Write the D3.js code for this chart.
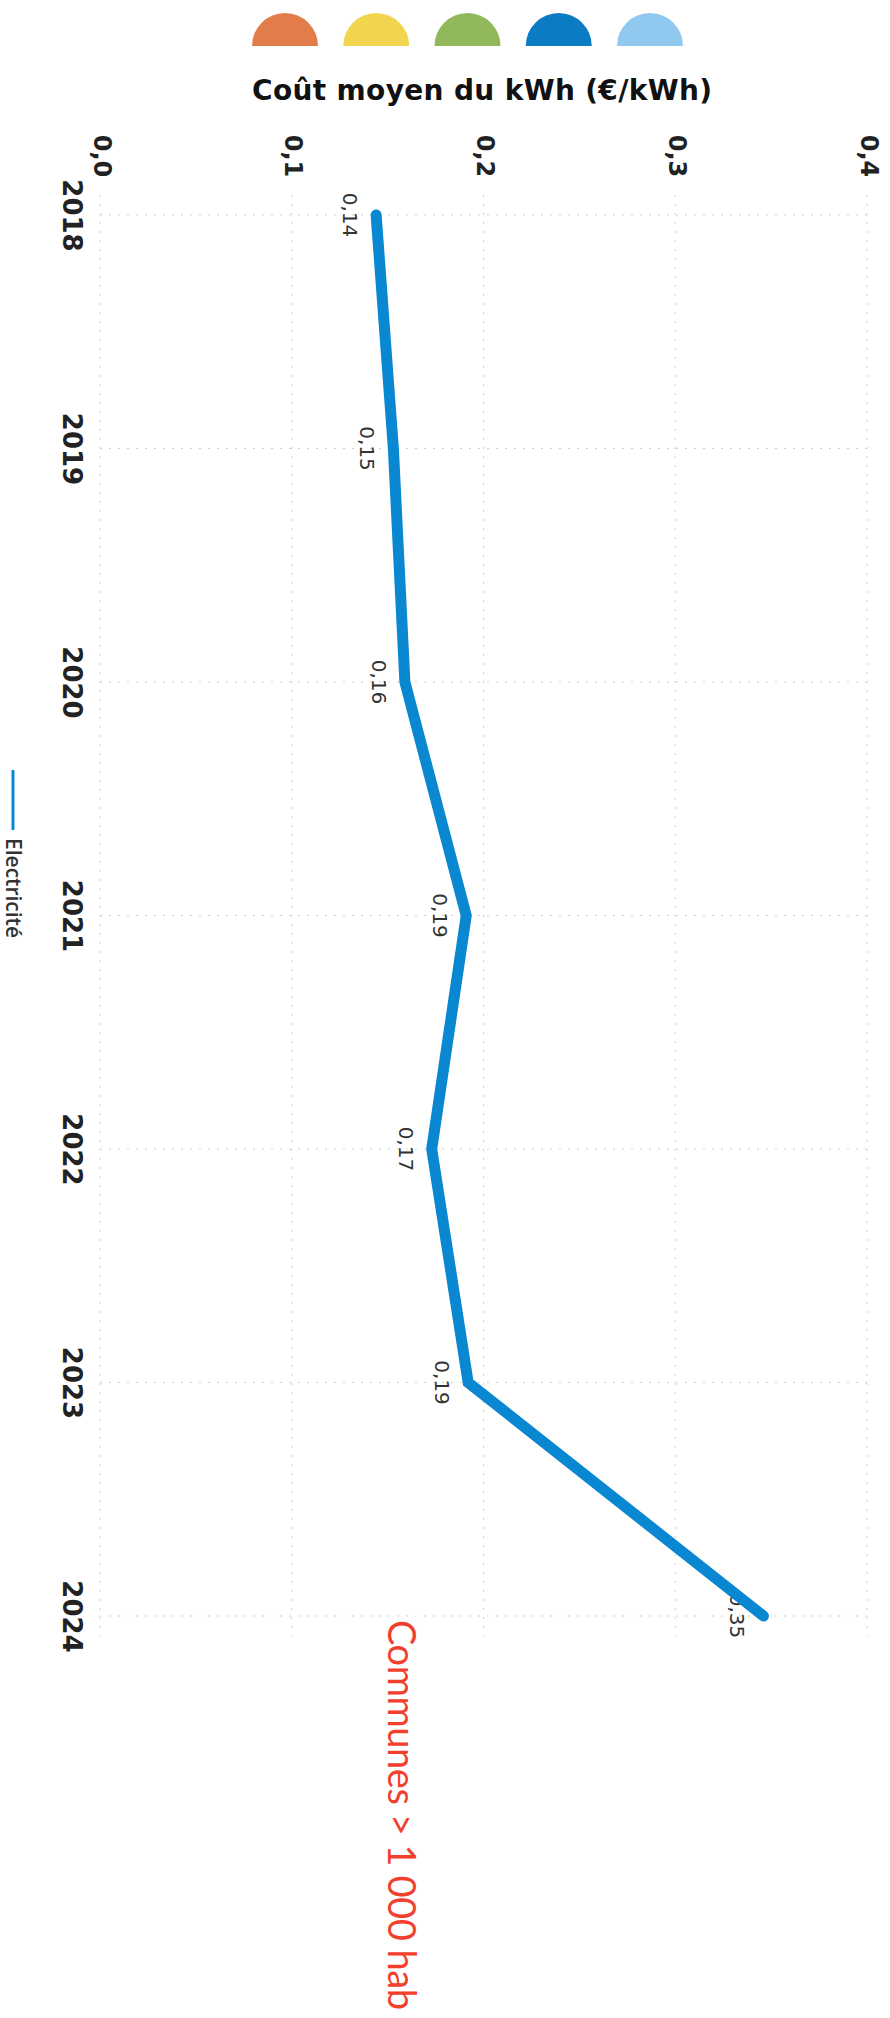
<!DOCTYPE html>
<html>
<head>
<meta charset="utf-8">
<script src="https://cdn.jsdelivr.net/npm/d3@7"></script>
<style>
  html, body { margin: 0; padding: 0; background: #fff; }
  svg { display: block; }
</style>
</head>
<body>
<div id="chart"></div>
<script>
const years = ["2018", "2019", "2020", "2021", "2022", "2023", "2024"];
const costs = [0.144, 0.153, 0.159, 0.191, 0.173, 0.192, 0.346];
const valueTicks = [0, 0.1, 0.2, 0.3, 0.4];
const tickLabels = ["0,0", "0,1", "0,2", "0,3", "0,4"];
const domeColors = ["#e27c4b", "#f2d54f", "#91b85b", "#0b7cc4", "#90c8f0"];
const seriesName = "Electricité";

const width = 890, height = 2018;
const lineColor = "#0a87d1";

const svg = d3.select("#chart").append("svg")
  .attr("width", width)
  .attr("height", height);

// value axis runs left -> right, years run top -> bottom (picture is turned 90deg)
const xscale = d3.scaleLinear().domain([0, 0.4]).range([100, 867]);
const yscale = d3.scalePoint().domain(years).range([215, 1616]);

const fr = d3.formatLocale({decimal: ",", thousands: " ", grouping: [3], currency: ["", " €"]});
const fmt = fr.format(".2f");

// coloured half discs at the top
const domeX = d3.scalePoint().domain(d3.range(domeColors.length)).range([285, 650]);
const arc = d3.arc().innerRadius(0).outerRadius(33)
  .startAngle(-Math.PI / 2).endAngle(Math.PI / 2);
svg.append("g").selectAll("path")
  .data(domeColors)
  .enter().append("path")
  .attr("transform", (d, i) => `translate(${domeX(i)}, 46)`)
  .attr("d", arc)
  .attr("fill", d => d);

// axis title
svg.append("text")
  .attr("x", 252)
  .attr("y", 100)
  .attr("textLength", 460)
  .style("font-family", "'DejaVu Sans', sans-serif")
  .style("font-weight", "bold")
  .style("font-size", "28px")
  .style("fill", "#111")
  .text("Coût moyen du kWh (€/kWh)");

// grid
const grid = svg.append("g").attr("class", "grid")
  .attr("stroke", "#cfcfcf")
  .attr("stroke-width", 1)
  .attr("stroke-dasharray", "2,7");

grid.selectAll("line.v")
  .data(valueTicks)
  .enter().append("line")
  .attr("class", "v")
  .attr("x1", d => xscale(d)).attr("x2", d => xscale(d))
  .attr("y1", 195).attr("y2", 1636);

grid.selectAll("line.h")
  .data(years)
  .enter().append("line")
  .attr("class", "h")
  .attr("x1", xscale(0)).attr("x2", xscale(0.4))
  .attr("y1", d => yscale(d)).attr("y2", d => yscale(d));

// value axis (top)
const xaxis = d3.axisTop(xscale)
  .tickValues(valueTicks)
  .tickSize(0)
  .tickFormat((d, i) => tickLabels[i]);

const g_xaxis = svg.append("g").attr("class", "x axis").call(xaxis);
g_xaxis.select(".domain").remove();
g_xaxis.selectAll("text")
  .attr("y", null).attr("dy", null)
  .attr("transform", "translate(-7, 156) rotate(90)")
  .attr("text-anchor", "middle")
  .style("font-family", "'DejaVu Sans', sans-serif")
  .style("font-weight", "bold")
  .style("font-size", "24px")
  .style("fill", "#222");

// year axis (left)
const yaxis = d3.axisLeft(yscale).tickSize(0);
const g_yaxis = svg.append("g").attr("class", "y axis").call(yaxis);
g_yaxis.select(".domain").remove();
g_yaxis.selectAll("text")
  .attr("x", null).attr("dy", null)
  .attr("transform", "translate(63, 0) rotate(90)")
  .attr("text-anchor", "middle")
  .style("font-family", "'DejaVu Sans', sans-serif")
  .style("font-weight", "bold")
  .style("font-size", "26px")
  .style("fill", "#222");

const data = years.map((y, i) => ({year: y, value: costs[i]}));

// labels sit under the line (left of it once turned)
svg.append("g").attr("class", "labels")
  .selectAll("text")
  .data(data)
  .enter().append("text")
  .attr("transform", d => `translate(${xscale(d.value) - 33}, ${yscale(d.year)}) rotate(90)`)
  .attr("text-anchor", "middle")
  .style("font-family", "'DejaVu Sans', sans-serif")
  .style("font-size", "20px")
  .style("fill", "#333")
  .text(d => fmt(d.value));

const line = d3.line()
  .x(d => xscale(d.value))
  .y(d => yscale(d.year));

svg.append("path")
  .datum(data)
  .attr("d", line)
  .attr("fill", "none")
  .attr("stroke", lineColor)
  .attr("stroke-width", 11)
  .attr("stroke-linecap", "round")
  .attr("stroke-linejoin", "miter");

// legend
const legend = svg.append("g").attr("class", "legend");
legend.append("line")
  .attr("x1", 13).attr("x2", 13)
  .attr("y1", 770).attr("y2", 830)
  .attr("stroke", lineColor)
  .attr("stroke-width", 3);
legend.append("text")
  .attr("transform", "translate(6, 838) rotate(90)")
  .style("font-family", "'Open Sans', sans-serif")
  .style("font-weight", 600)
  .style("font-size", "21px")
  .style("fill", "#333")
  .text(seriesName);

// red note
svg.append("text")
  .attr("transform", "translate(388, 1620) rotate(90)")
  .attr("textLength", 390)
  .style("font-family", "Lato, sans-serif")
  .style("font-size", "38px")
  .style("fill", "#f2402e")
  .text("Communes > 1 000 hab");
</script>
</body>
</html>
